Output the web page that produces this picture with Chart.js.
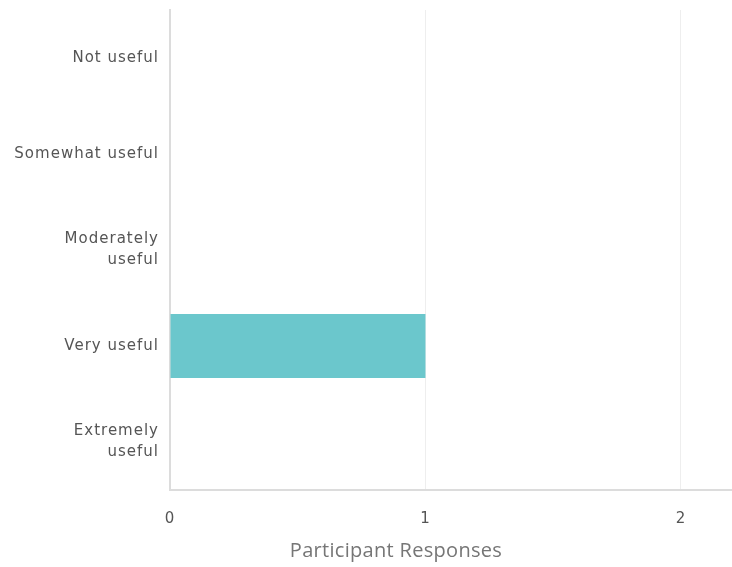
<!DOCTYPE html>
<html>
<head>
<meta charset="utf-8">
<script src="https://cdn.jsdelivr.net/npm/chart.js@4.4.1/dist/chart.umd.min.js"></script>
<style>
  html, body { margin: 0; padding: 0; background: #fff; }
  #wrap { position: relative; width: 732px; height: 567px; overflow: hidden; }
  #chart { position: absolute; left: 0; top: 0; }
  #xTitle {
    position: absolute; left: 396px; top: 536px; transform: translateX(-50%);
    font-family: 'Open Sans', sans-serif; font-size: 20px; letter-spacing: 0.3px;
    color: #767676; white-space: nowrap;
  }
</style>
</head>
<body>
<div id="wrap">
  <canvas id="chart" width="732" height="567"></canvas>
  <div id="xTitle">Participant Responses</div>
</div>
<script>
  const categories = ['Not useful', 'Somewhat useful', ['Moderately', 'useful'], 'Very useful', ['Extremely', 'useful']];
  const responses = [0, 0, 0, 1, 0];
  const xTicks = [0, 1, 2];

  const BAR_COLOR = '#6bc7cc';
  const AXIS_COLOR = '#dcdcdc';
  const GRID_COLOR = '#eeeeee';
  const LABEL_FONT = { family: 'DejaVu Sans', size: 15, lineHeight: 1.4 };

  // the labels in the picture are widely tracked
  const tracking = {
    id: 'tracking',
    beforeDraw(chart) { chart.ctx.letterSpacing = '1px'; },
  };

  new Chart(document.getElementById('chart'), {
    type: 'bar',
    data: {
      labels: categories,
      datasets: [{
        label: 'Participant Responses',
        data: responses,
        backgroundColor: BAR_COLOR,
        categoryPercentage: 1,
        barPercentage: 0.667,
      }],
    },
    plugins: [tracking],
    options: {
      indexAxis: 'y',
      responsive: false,
      animation: false,
      layout: { padding: { top: 10, right: 0, left: 0, bottom: 0 } },
      plugins: { legend: { display: false }, tooltip: { enabled: false } },
      scales: {
        x: {
          min: 0,
          max: 2.2,
          afterFit: s => { s.height = 77; },
          afterBuildTicks: s => { s.ticks = xTicks.map(v => ({ value: v })); },
          ticks: { color: '#555', font: LABEL_FONT, padding: 19, includeBounds: false },
          grid: { color: GRID_COLOR, lineWidth: 1, drawTicks: false },
          border: { color: AXIS_COLOR, width: 2 },
        },
        y: {
          afterFit: s => { s.width = 170; s.paddingTop = 0; s.paddingBottom = 0; },
          ticks: { color: '#555', font: LABEL_FONT, padding: 11 },
          grid: { display: false, drawTicks: false },
          border: { color: AXIS_COLOR, width: 2 },
        },
      },
    },
  });
</script>
</body>
</html>
